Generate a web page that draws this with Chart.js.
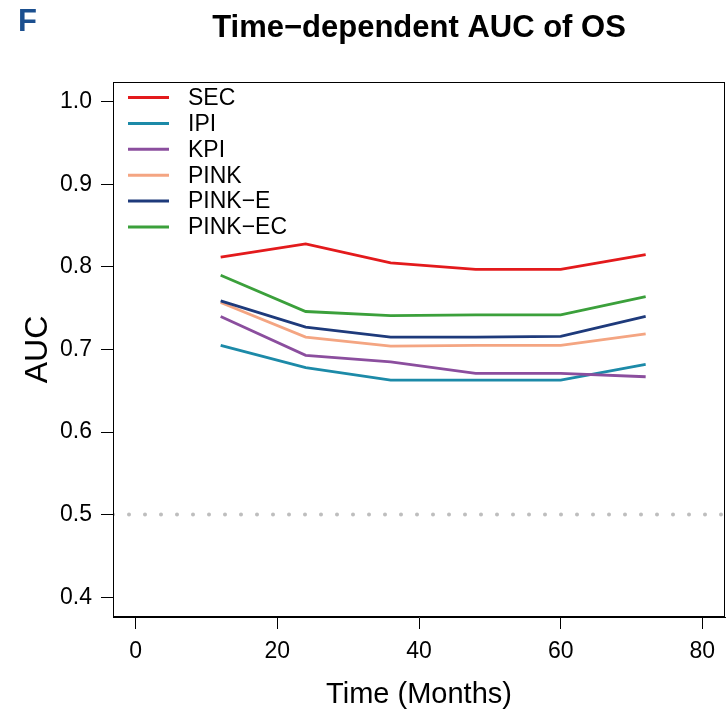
<!doctype html>
<html>
<head>
    <title>AUC</title>
    <meta http-equiv="Content-Type" content="text/html;charset=UTF-8">
    <script src="https://cdn.jsdelivr.net/npm/chart.js@4/dist/chart.umd.min.js"></script>
    <style>
        body { margin: 0; background: #fff; }
    </style>
</head>
<body>
    <canvas id="grafico" width="727" height="716"></canvas>
<script>
    var meses = [12, 24, 36, 48, 60, 72];
    var sec = [0.812, 0.828, 0.805, 0.797, 0.797, 0.815];
    var ipi = [0.705, 0.678, 0.663, 0.663, 0.663, 0.682];
    var kpi = [0.740, 0.693, 0.685, 0.671, 0.671, 0.667];
    var pink = [0.757, 0.715, 0.704, 0.705, 0.705, 0.719];
    var pinkE = [0.759, 0.727, 0.715, 0.715, 0.716, 0.740];
    var pinkEC = [0.790, 0.746, 0.741, 0.742, 0.742, 0.764];
    var nomes = ["SEC", "IPI", "KPI", "PINK", "PINK\u2212E", "PINK\u2212EC"];
    var cores = ["#E31A1C", "#1C8AA8", "#8B4E9E", "#F4A582", "#1E3A7B", "#3BA03B"];
    var xTicks = [0, 20, 40, 60, 80];
    var yTicks = [0.4, 0.5, 0.6, 0.7, 0.8, 0.9, 1.0];
    var referencia = 0.5;

    var fonte = "'Liberation Sans', Arial, sans-serif";

    function pontos(valores) {
        return valores.map((v, i) => ({ x: meses[i], y: v }));
    }

    var series = [sec, ipi, kpi, pink, pinkE, pinkEC];
    var datasets = series.map((s, i) => ({
        label: nomes[i],
        data: pontos(s),
        borderColor: cores[i],
        borderWidth: 2.8,
        pointRadius: 0,
        tension: 0,
        order: 10 - i
    }));
    datasets.push({
        label: "ref",
        data: [{ x: -3.2, y: referencia }, { x: 83.2, y: referencia }],
        borderColor: "#BEBEBE",
        borderWidth: 4,
        borderDash: [0, 16],
        borderCapStyle: "round",
        pointRadius: 0,
        order: 20
    });

    var extras = {
        id: "extras",
        afterDraw(chart) {
            var ctx = chart.ctx;
            var a = chart.chartArea;
            ctx.save();
            // caixa
            ctx.strokeStyle = "#000";
            ctx.lineWidth = 1;
            ctx.strokeRect(a.left + 0.5, a.top + 0.5, a.right - a.left - 1, a.bottom - a.top - 1);
            // titulo
            ctx.fillStyle = "#000";
            ctx.font = "bold 31px " + fonte;
            ctx.textAlign = "center";
            ctx.textBaseline = "middle";
            ctx.fillText("Time\u2212dependent AUC of OS", (a.left + a.right) / 2, 28);
            // letra do painel
            ctx.fillStyle = "#1B4F8F";
            ctx.font = "bold 31px " + fonte;
            ctx.textAlign = "left";
            ctx.fillText("F", 18, 22);
            // legenda
            ctx.font = "23px " + fonte;
            ctx.textAlign = "left";
            nomes.forEach((n, i) => {
                var y = 97.5 + i * 25.9;
                ctx.strokeStyle = cores[i];
                ctx.lineWidth = 3;
                ctx.beginPath();
                ctx.moveTo(128, y);
                ctx.lineTo(169, y);
                ctx.stroke();
                ctx.fillStyle = "#000";
                ctx.fillText(n, 188, y + 1);
            });
            ctx.restore();
        }
    };

    new Chart(document.getElementById("grafico"), {
        type: "line",
        data: { datasets: datasets },
        options: {
            responsive: false,
            animation: false,
            layout: { padding: { top: 82, right: 2, left: 0, bottom: 0 } },
            plugins: {
                legend: { display: false },
                tooltip: { enabled: false }
            },
            scales: {
                x: {
                    type: "linear",
                    min: -3.2,
                    max: 83.2,
                    afterFit: s => { s.height = 99; },
                    afterBuildTicks: s => { s.ticks = xTicks.map(v => ({ value: v })); },
                    grid: { drawOnChartArea: false, tickLength: 12, color: "#000" },
                    border: { color: "#000" },
                    ticks: { color: "#000", padding: 9, maxRotation: 0, font: { size: 23, family: fonte } },
                    title: { display: true, text: "Time (Months)", color: "#000", padding: { bottom: 4 }, font: { size: 29, family: fonte } }
                },
                y: {
                    min: 0.376,
                    max: 1.024,
                    afterFit: s => { s.width = 113; },
                    afterBuildTicks: s => { s.ticks = yTicks.map(v => ({ value: v })); },
                    grid: { drawOnChartArea: false, tickLength: 12, color: "#000" },
                    border: { color: "#000" },
                    ticks: { color: "#000", padding: 9, callback: v => v.toFixed(1), font: { size: 23, family: fonte } },
                    title: { display: true, text: "AUC", color: "#000", padding: { top: 19 }, font: { size: 32, family: fonte } }
                }
            }
        },
        plugins: [extras]
    });
</script>
</body>
</html>
